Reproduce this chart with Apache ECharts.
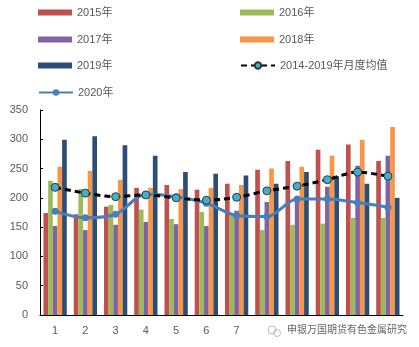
<!DOCTYPE html>
<html><head><meta charset="utf-8">
<script src="https://cdn.jsdelivr.net/npm/echarts@6/dist/echarts.min.js"></script>
<style>html,body{margin:0;padding:0;background:#fff}#c{width:419px;height:347px}</style>
</head><body><div id="c"></div>
<script>
var months = ['1','2','3','4','5','6','7','8','9','10','11','12'];
var y2015 = [174, 172, 185, 217, 222, 214, 224, 248, 263, 282, 291, 263];
var y2016 = [229, 215, 188, 180, 164, 176, 172, 145, 154, 156, 166, 166];
var y2017 = [152, 145, 154, 159, 155, 152, 178, 193, 198, 219, 255, 272];
var y2018 = [253, 246, 231, 217, 215, 217, 222, 250, 253, 272, 299, 321];
var y2019 = [299, 305, 290, 272, 244, 241, 238, 224, 244, 237, 224, 200];
var avg1419 = [218, 208, 202, 205, 200, 196, 201, 212, 220, 231, 244, 237];
var y2020 = [177, 166, 172, 206, 202, 191, 170, 168, 198, 198, 192, 184];
var names = ['2015年','2016年','2017年','2018年','2019年','2014-2019年月度均值','2020年'];
var yTicks = [0, 50, 100, 150, 200, 250, 300, 350];

var colors = ['#C0504D','#9BBB59','#8064A2','#F79646','#2C4D75'];
var barData = [y2015, y2016, y2017, y2018, y2019];
var series = [];
for (var i = 0; i < 5; i++) {
  series.push({
    name: names[i], type: 'bar', data: barData[i], barGap: '0%', barCategoryGap: '23%',
    itemStyle: {color: colors[i]}, z: 2
  });
}
series.push({
  name: names[5], type: 'line', data: avg1419, smooth: 0.3, symbol: 'circle', symbolSize: 8,
  lineStyle: {color: '#000', width: 3, type: [6, 4]},
  itemStyle: {color: '#4BACC6', borderColor: '#1F3F4A', borderWidth: 1}, z: 5
});
series.push({
  name: names[6], type: 'line', data: y2020, smooth: 0.3, symbol: 'circle', symbolSize: 7,
  lineStyle: {color: '#4A7EBB', width: 3},
  itemStyle: {color: '#4A7EBB'}, z: 4
});

var legPos = [[38, 7], [240, 7], [38, 34], [240, 34], [38, 60], [240, 60], [38, 87]];
var legends = names.map(function (n, k) {
  return {
    data: [n], left: legPos[k][0], top: legPos[k][1], itemWidth: 34,
    itemHeight: k >= 5 ? 8 : 6, icon: k >= 5 ? undefined : 'rect',
    textStyle: {color: '#595959', fontSize: 11, fontFamily: 'Liberation Sans, Noto Sans CJK SC'},
    itemGap: 4, padding: 0, selectedMode: false
  };
});

var chart = echarts.init(document.getElementById('c'));
chart.setOption({
  animation: false,
  legend: legends,
  grid: {left: 40, right: 16, top: 110, bottom: 32},
  xAxis: {
    type: 'category', data: months,
    axisLine: {lineStyle: {color: '#000', width: 1}},
    axisTick: {inside: true, length: 3, lineStyle: {color: '#000'}},
    axisLabel: {color: '#595959', fontSize: 11, margin: 10}
  },
  yAxis: {
    type: 'value', min: 0, max: 350, interval: 50,
    splitLine: {show: false},
    axisLine: {show: true, lineStyle: {color: '#000', width: 1}},
    axisTick: {show: true, inside: true, length: 3, lineStyle: {color: '#000'}},
    axisLabel: {color: '#595959', fontSize: 11, margin: 12}
  },
  graphic: [
    {type: 'rect', shape: {x: 262, y: 322, width: 157, height: 20}, style: {fill: '#fff'}, z: 100},
    {type: 'circle', shape: {cx: 272, cy: 330, r: 4}, style: {fill: 'none', stroke: '#bbb', lineWidth: 1}, z: 101},
    {type: 'circle', shape: {cx: 277, cy: 333, r: 3.5}, style: {fill: 'none', stroke: '#bbb', lineWidth: 1}, z: 101},
    {type: 'text', left: 287, top: 324, style: {text: '申银万国期货有色金属研究', fill: '#666', font: '10px "Noto Sans CJK SC"'}, z: 101}
  ],
  series: series
});
</script></body></html>
